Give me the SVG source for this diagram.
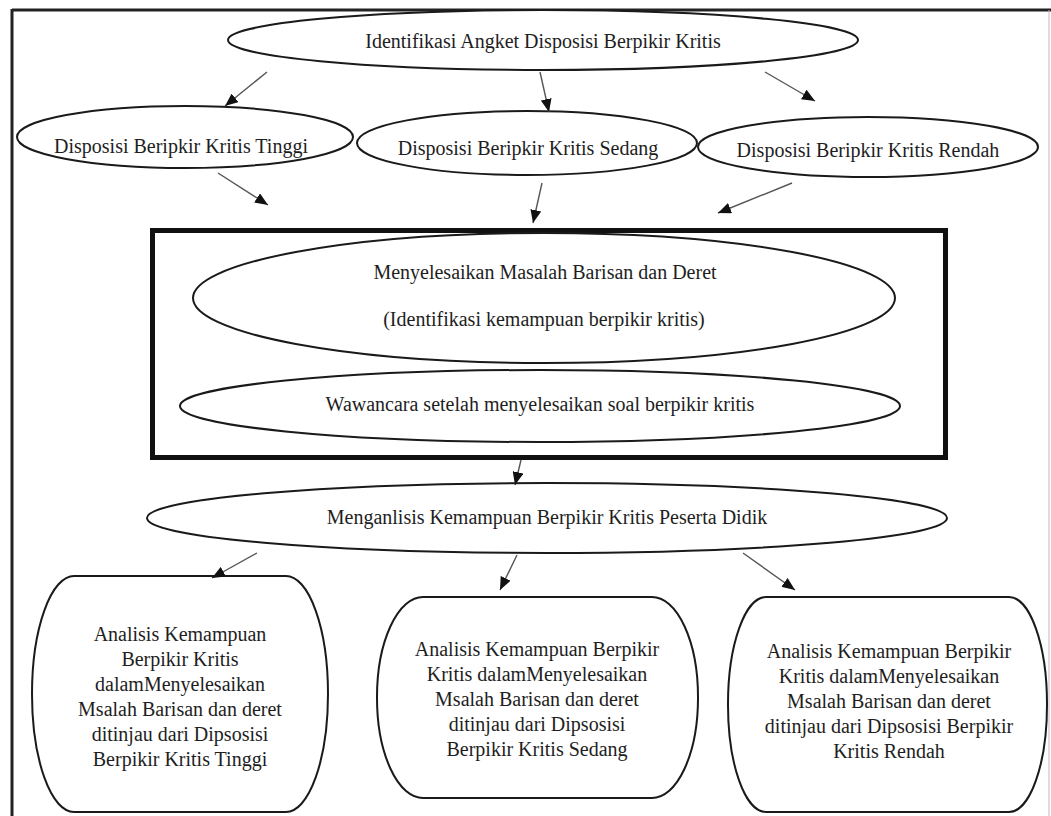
<svg xmlns="http://www.w3.org/2000/svg" width="1051" height="816" viewBox="0 0 1051 816">
<defs>
<marker id="ah" markerUnits="userSpaceOnUse" markerWidth="13" markerHeight="11" refX="13" refY="5.5" orient="auto">
<path d="M0,0 L13,5.5 L0,11 z" fill="#111"/>
</marker>
<style>
text{font-family:'Liberation Serif','DejaVu Serif',serif;font-size:20px;fill:#1e1e1e;text-anchor:middle}
.n{fill:#fff;stroke:#1a1a1a;stroke-width:2}
.c{stroke:#555;stroke-width:1.4;fill:none;marker-end:url(#ah)}
</style>
</defs>
<rect width="1051" height="816" fill="#fff"/>
<g id="frame">
<line x1="12" y1="10" x2="1051" y2="10" stroke="#222" stroke-width="3"/>
<line x1="12" y1="9" x2="12" y2="816" stroke="#222" stroke-width="3"/>
<line x1="1049" y1="10" x2="1049" y2="816" stroke="#bbb" stroke-width="1"/>
</g>
<g id="group-box">
<rect x="152.5" y="230.5" width="793" height="227" fill="none" stroke="#111" stroke-width="5"/>
</g>
<g id="n-identifikasi">
<ellipse class="n" cx="543" cy="40" rx="315" ry="30"/>
<text font-family="Liberation Serif, serif" x="543" y="48">Identifikasi Angket Disposisi Berpikir Kritis</text>
</g>
<g id="n-tinggi">
<ellipse class="n" cx="185" cy="137" rx="168" ry="31"/>
<text x="181" y="153">Disposisi Beripkir Kritis Tinggi</text>
</g>
<g id="n-sedang">
<ellipse class="n" cx="527" cy="143" rx="170" ry="32"/>
<text x="528" y="155">Disposisi Beripkir Kritis Sedang</text>
</g>
<g id="n-rendah">
<ellipse class="n" cx="868" cy="147" rx="170" ry="30"/>
<text x="868" y="157">Disposisi Beripkir Kritis Rendah</text>
</g>
<g id="n-menyelesaikan">
<ellipse class="n" cx="544" cy="298" rx="351" ry="65"/>
<text x="545" y="279">Menyelesaikan Masalah Barisan dan Deret</text>
<text x="544" y="326">(Identifikasi kemampuan berpikir kritis)</text>
</g>
<g id="n-wawancara">
<ellipse class="n" cx="540" cy="406" rx="360" ry="36"/>
<text x="540" y="411">Wawancara setelah menyelesaikan soal berpikir kritis</text>
</g>
<g id="n-menganalisis">
<ellipse class="n" cx="547" cy="518" rx="400" ry="35"/>
<text x="547" y="524">Menganlisis Kemampuan Berpikir Kritis Peserta Didik</text>
</g>
<g id="n-analisis-tinggi">
<rect class="n" x="32" y="576" width="296" height="236" rx="42" ry="118"/>
<text x="180" y="641">Analisis Kemampuan</text>
<text x="180" y="666">Berpikir Kritis</text>
<text x="180" y="691">dalamMenyelesaikan</text>
<text x="180" y="716">Msalah Barisan dan deret</text>
<text x="180" y="741">ditinjau dari Dipsosisi</text>
<text x="180" y="766">Berpikir Kritis Tinggi</text>
</g>
<g id="n-analisis-sedang">
<rect class="n" x="377" y="597" width="321" height="201" rx="46" ry="100"/>
<text x="537" y="656">Analisis Kemampuan Berpikir</text>
<text x="537" y="681">Kritis dalamMenyelesaikan</text>
<text x="537" y="706">Msalah Barisan dan deret</text>
<text x="537" y="731">ditinjau dari Dipsosisi</text>
<text x="537" y="756">Berpikir Kritis Sedang</text>
</g>
<g id="n-analisis-rendah">
<rect class="n" x="728" y="597" width="319" height="215" rx="38" ry="107"/>
<text x="889" y="658">Analisis Kemampuan Berpikir</text>
<text x="889" y="683">Kritis dalamMenyelesaikan</text>
<text x="889" y="708">Msalah Barisan dan deret</text>
<text x="889" y="733">ditinjau dari Dipsosisi Berpikir</text>
<text x="889" y="758">Kritis Rendah</text>
</g>
<g id="connectors">
<line class="c" x1="267" y1="72" x2="225" y2="106"/>
<line class="c" x1="540" y1="72" x2="549" y2="112"/>
<line class="c" x1="765" y1="72" x2="815" y2="101"/>
<line class="c" x1="218" y1="173" x2="268" y2="205"/>
<line class="c" x1="542" y1="183" x2="533" y2="223"/>
<line class="c" x1="792" y1="183" x2="718" y2="213"/>
<line class="c" x1="521" y1="460" x2="515" y2="485"/>
<line class="c" x1="257" y1="553" x2="212" y2="578"/>
<line class="c" x1="517" y1="555" x2="500" y2="590"/>
<line class="c" x1="743" y1="553" x2="795" y2="590"/>
</g>
</svg>
